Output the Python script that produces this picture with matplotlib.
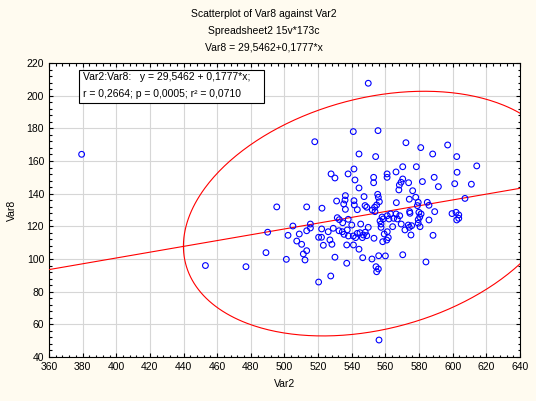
import matplotlib
matplotlib.use("Agg")
import matplotlib.pyplot as plt
import numpy as np
from matplotlib.ticker import MultipleLocator
from matplotlib.patches import Rectangle

# Var2 / Var8 values
var2 = [379.4, 453, 477.1, 549.8, 556.2, 490, 489, 495.4, 501.1, 502.1,
        505, 508.8, 507.3, 510.2, 513.2, 513.2, 511.2, 512.2, 513.2, 515.4,
        515.4, 518, 520.3, 522, 522.3, 520.3, 523.1, 527, 528.2, 522.1,
        526, 529, 532.4, 534.4, 535.4, 538, 537.3, 534.6, 530, 527.5,
        537, 527.7, 530, 537.8, 531, 536.2, 536, 535.2, 536.2, 531.4,
        532.6, 537.9, 537, 541, 544.3, 546.5, 552, 556, 560, 554.4,
        555.8, 554.8, 570.3, 584.1, 588.3, 575.2, 571.6, 573.6, 575.6, 569.4,
        564.3, 579.5, 580.6, 585.9, 602.4, 540, 545.3, 549.8, 543.3, 544.9,
        546.9, 548.9, 548, 540.9, 553.2, 559.3, 558.4, 560.8, 561.1, 561.7,
        546.3, 542.3, 557.4, 557.4, 574.2, 540.9, 555.6, 572.2, 581, 597,
        544.3, 554.2, 588.1, 602.4, 614.3, 541.3, 570.3, 578.4, 602.6, 541.9,
        553, 553, 561, 561, 566.3, 570.3, 569.3, 568.3, 568, 573.8,
        582, 589, 591.5, 601.2, 611.1, 544.3, 541.3, 547.3, 541.5, 543.3,
        547.9, 548.9, 555.4, 555.8, 556.4, 553.6, 554.8, 552.2, 553.8, 566.5,
        576.2, 574.2, 578, 579.5, 579, 585.9, 584.9, 589.3, 574.4, 607.3,
        581.2, 599.6, 602, 603.6, 603.6, 580.4, 579.5, 566.3, 568.5, 567.1,
        564.9, 563.1, 561.1, 562.1, 558, 558.7, 556.8, 579.9, 574.6]
var8 = [164.1, 96, 95.3, 207.6, 50.4, 116.4, 103.9, 131.9, 99.8, 114.5,
        120.2, 115.3, 111, 109, 131.9, 105.1, 103.1, 99.4, 117.3, 121.4,
        119, 171.8, 113.3, 113.3, 131.1, 85.9, 108.4, 111.7, 109, 118.4,
        116.7, 118.8, 117.3, 116.7, 115.1, 114.1, 117.8, 122.2, 101.1, 89.6,
        97.4, 152.1, 149.6, 152.1, 135.5, 138.8, 136.1, 133.7, 130.4, 125.3,
        124.1, 124.3, 108.6, 108.6, 106, 100.8, 100, 102, 101.9, 95.3,
        93.9, 92.2, 102.6, 98.2, 114.5, 114.7, 117.8, 120.8, 120.4, 121.4,
        119.8, 121.9, 119.8, 123.9, 123.9, 120.8, 121.4, 119.4, 115.7, 116.1,
        114.7, 114.3, 116.4, 114.1, 112.7, 115.3, 110.6, 111.6, 116.7, 113.1,
        113.1, 113.1, 121.4, 119.4, 119.4, 178, 178.6, 171.2, 168.2, 169.8,
        164.3, 162.7, 164.3, 162.7, 157, 155.1, 156.5, 156.5, 153.1, 148.4,
        150, 146.7, 152.1, 150, 153.3, 149, 147, 145.3, 142.3, 146.7,
        147.4, 150, 144.3, 146.1, 145.8, 143.5, 135.7, 138.2, 133.1, 130.2,
        132.7, 131.7, 139.6, 137.8, 135.1, 131.7, 133.1, 130, 129, 134.5,
        141.8, 136.6, 137.8, 134.7, 132.7, 132.9, 134.7, 129, 129, 137.1,
        127.6, 127.8, 128.6, 127, 124.9, 125.7, 124.1, 127.6, 126.5, 124.5,
        124.9, 127.6, 126.5, 124.5, 125.7, 124.5, 123.3, 128.6, 128]

# regression and ellipse statistics
intercept = 29.5462
slope = 0.1777
r = 0.2664
mean_x = 553.0
mean_y = 127.8
sd_x = 46.2
sd_y = 30.6
ellipse_k = 2.4477  # sqrt(chi2(0.95, 2))

plt.rcParams['font.family'] = ['Liberation Sans', 'DejaVu Sans']
plt.rcParams['font.size'] = 7.5

fig = plt.figure(figsize=(5.36, 4.01), dpi=100, facecolor='#fffbf0')
ax = fig.add_axes([0.0914, 0.1097, 0.8787, 0.7332])
ax.set_facecolor('white')

ax.set_xlim(360, 640)
ax.set_ylim(40, 220)
ax.xaxis.set_major_locator(MultipleLocator(20))
ax.xaxis.set_minor_locator(MultipleLocator(4))
ax.yaxis.set_major_locator(MultipleLocator(20))
ax.yaxis.set_minor_locator(MultipleLocator(4))
ax.tick_params(which='both', direction='in', top=True, right=True,
               colors='black', labelsize=7.5, width=0.8)
ax.tick_params(which='major', length=3)
ax.tick_params(which='minor', length=1.8)
ax.grid(True, which='major', color='#d6d6d6', lw=0.8)
ax.set_axisbelow(True)
for s in ax.spines.values():
    s.set_linewidth(0.8)

# regression line
xs = np.array([360, 640])
ax.plot(xs, intercept + slope * xs, color='red', lw=0.8, zorder=3)

# prediction ellipse
t = np.linspace(0, 2 * np.pi, 400)
ex = mean_x + ellipse_k * sd_x * np.cos(t)
ey = mean_y + ellipse_k * sd_y * (r * np.cos(t) + np.sqrt(1 - r ** 2) * np.sin(t))
ax.plot(ex, ey, color='red', lw=0.8, zorder=3)

ax.scatter(var2, var8, s=17, facecolors='none', edgecolors='blue',
           linewidths=0.8, zorder=4)

ax.set_xlabel("Var2", labelpad=5)
ax.set_ylabel("Var8", labelpad=7)

# stats box
ax.add_patch(Rectangle((0.0637, 0.864), 0.3928, 0.112, transform=ax.transAxes,
                       facecolor='white', edgecolor='black', lw=0.8, zorder=5))
ax.text(0.072, 0.952, "Var2:Var8:   y = 29,5462 + 0,1777*x;", transform=ax.transAxes,
        va='center', ha='left', zorder=6)
ax.text(0.072, 0.893, "r = 0,2664; p = 0,0005; r² = 0,0710", transform=ax.transAxes,
        va='center', ha='left', zorder=6)

fig.text(0.4925, 1 - 14 / 401, "Scatterplot of Var8 against Var2", ha='center', va='center')
fig.text(0.4925, 1 - 31 / 401, "Spreadsheet2 15v*173c", ha='center', va='center')
fig.text(0.4925, 1 - 47 / 401, "Var8 = 29,5462+0,1777*x", ha='center', va='center')

fig.savefig("out.png", dpi=100, facecolor=fig.get_facecolor())
